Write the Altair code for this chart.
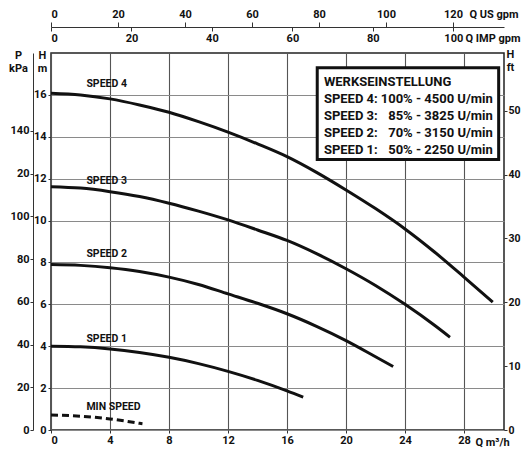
import altair as alt
import pandas as pd

# ---- data (Q in m3/h, H in m) ----
s4_q = [0, 2, 4, 6, 8, 10, 12, 14, 16, 18, 20, 22, 24, 26, 28, 29.95]
s4_h = [16.08, 16.0, 15.81, 15.52, 15.17, 14.72, 14.22, 13.66, 13.05, 12.3, 11.46, 10.57, 9.6, 8.5, 7.3, 6.1]
s3_q = [0, 2, 4, 6, 8, 10, 12, 14, 16, 18, 20, 22, 24, 26, 27.05]
s3_h = [11.62, 11.55, 11.38, 11.15, 10.83, 10.45, 10.03, 9.55, 9.05, 8.42, 7.7, 6.9, 6.0, 5.0, 4.43]
s2_q = [0, 2, 4, 6, 8, 10, 12, 14, 16, 18, 20, 22, 23.2]
s2_h = [7.9, 7.86, 7.75, 7.57, 7.3, 6.95, 6.5, 6.05, 5.55, 4.95, 4.27, 3.5, 3.03]
s1_q = [0, 2, 4, 6, 8, 10, 12, 14, 16, 17.1]
s1_h = [4.0, 3.97, 3.87, 3.70, 3.47, 3.17, 2.80, 2.37, 1.87, 1.57]
min_q = [0, 2, 4, 6, 6.2]
min_h = [0.72, 0.66, 0.53, 0.32, 0.3]

label_text = ["SPEED 4", "SPEED 3", "SPEED 2", "SPEED 1", "MIN SPEED"]
label_q = [2.4, 2.4, 2.4, 2.4, 2.4]
label_h = [16.5, 11.9, 8.38, 4.35, 1.12]

legend_title = "WERKSEINSTELLUNG"
legend_col1 = ["SPEED 4:", "SPEED 3:", "SPEED 2:", "SPEED 1:"]
legend_col2 = ["100% - 4500 U/min", "85% - 3825 U/min", "70% - 3150 U/min", "50% - 2250 U/min"]
legend_rows_h = [15.82, 15.01, 14.20, 13.39]
legend_title_h = 16.63
legend_left_q = 18.5
legend_right_q = 29.95
box_q = [18.05, 30.35]
box_h = [12.91, 17.29]

q_ticks = [0, 4, 8, 12, 16, 20, 24, 28]
h_ticks = [0, 2, 4, 6, 8, 10, 12, 14, 16]
us_ticks = [0, 20, 40, 60, 80, 100, 120]
imp_ticks = [0, 20, 40, 60, 80, 100]
kpa_ticks = [0, 20, 40, 60, 80, 100, 120, 140]
ft_ticks = [0, 10, 20, 30, 40, 50]

US_PER_M3H = 4.40287
IMP_PER_M3H = 3.66615
KPA_PER_M = 9.80665
FT_PER_M = 3.28084

WIDTH = 453
HEIGHT = 377
Q_MAX = WIDTH / 14.75
H_MAX = 18.0

FONT = "Roboto, Liberation Sans, sans-serif"
INK = "#111111"

# ---- tables ----
rows = []
for name, qs, hs in [("SPEED 4", s4_q, s4_h), ("SPEED 3", s3_q, s3_h),
                     ("SPEED 2", s2_q, s2_h), ("SPEED 1", s1_q, s1_h)]:
    for i, (q, h) in enumerate(zip(qs, hs)):
        rows.append({"speed": name, "i": i, "q": q, "h": h})
curves_df = pd.DataFrame(rows)
min_df = pd.DataFrame({"q": min_q, "h": min_h, "i": list(range(len(min_q)))})
labels_df = pd.DataFrame({"t": label_text, "q": label_q, "h": label_h})
box_df = pd.DataFrame({"q1": [box_q[0]], "q2": [box_q[1]], "h1": [box_h[0]], "h2": [box_h[1]]})
leg_title_df = pd.DataFrame({"t": [legend_title], "q": [legend_left_q], "h": [legend_title_h]})
leg1_df = pd.DataFrame({"t": legend_col1, "q": [legend_left_q] * 4, "h": legend_rows_h})
leg2_df = pd.DataFrame({"t": legend_col2, "q": [legend_right_q] * 4, "h": legend_rows_h})
axis_df = pd.DataFrame({"q": [0, Q_MAX], "h": [0, H_MAX]})

xs = alt.Scale(domain=[0, Q_MAX], nice=False, zero=False)
ys = alt.Scale(domain=[0, H_MAX], nice=False, zero=False)

common = dict(labelFont=FONT, labelFontWeight="bold", labelFontSize=11, labelColor=INK,
              titleFont=FONT, titleFontWeight="bold", titleFontSize=11, titleColor=INK,
              tickColor="#333333", domainColor="#333333", titleAngle=0)

x_main = alt.X("q:Q", scale=xs, axis=alt.Axis(
    values=q_ticks, grid=True, gridColor="#555555", gridWidth=1.1, domain=False,
    tickSize=3, labelPadding=1, title="Q  m³/h", titleX=424, titleY=15,
    titleAlign="left", titleBaseline="alphabetic", **common))
y_main = alt.Y("h:Q", scale=ys, axis=alt.Axis(
    values=h_ticks, grid=True, gridColor="#8a8a8a", gridWidth=1.1, domain=False,
    tickSize=3, labelPadding=2, title=["H", "m"], titleX=-9, titleY=-4,
    titleAlign="center", titleBaseline="top", titleLineHeight=13, **common))

x_plain = alt.X("q:Q", scale=xs, axis=None)
y_plain = alt.Y("h:Q", scale=ys, axis=None)

lines = alt.Chart(curves_df).mark_line(color=INK, strokeWidth=3, interpolate="monotone").encode(
    x=x_main, y=y_main, detail="speed:N", order="i:Q")

min_line = alt.Chart(min_df).mark_line(color=INK, strokeWidth=3, strokeDash=[7, 4],
                                       interpolate="monotone").encode(
    x=x_plain, y=y_plain, order="i:Q")

labels = alt.Chart(labels_df).mark_text(font=FONT, fontWeight="bold", fontSize=10.5, color=INK,
                                        align="left", baseline="middle").encode(
    x=x_plain, y=y_plain, text="t:N")

box = alt.Chart(box_df).mark_rect(fill="white", stroke=INK, strokeWidth=3).encode(
    x=alt.X("q1:Q", scale=xs, axis=None), x2="q2:Q",
    y=alt.Y("h1:Q", scale=ys, axis=None), y2="h2:Q")

LEG_FS = 13
leg_t = alt.Chart(leg_title_df).mark_text(font=FONT, fontWeight="bold", fontSize=LEG_FS, color=INK,
                                          align="left", baseline="middle").encode(
    x=x_plain, y=y_plain, text="t:N")
leg_1 = alt.Chart(leg1_df).mark_text(font=FONT, fontWeight="bold", fontSize=LEG_FS, color=INK,
                                     align="left", baseline="middle").encode(
    x=x_plain, y=y_plain, text="t:N")
leg_2 = alt.Chart(leg2_df).mark_text(font=FONT, fontWeight="bold", fontSize=LEG_FS, color=INK,
                                     align="right", baseline="middle").encode(
    x=x_plain, y=y_plain, text="t:N")

us_layer = alt.Chart(axis_df).transform_calculate(
    us=f"datum.q * {US_PER_M3H}", kpa=f"datum.h * {KPA_PER_M}"
).mark_point(opacity=0).encode(
    x=alt.X("us:Q", scale=alt.Scale(domain=[0, Q_MAX * US_PER_M3H], nice=False, zero=False),
            axis=alt.Axis(orient="top", offset=26, values=us_ticks, grid=False, domain=True,
                          tickSize=5, labelPadding=3, title="Q US gpm", titleX=418, titleY=-10,
                          titleAlign="left", titleBaseline="alphabetic", **common)),
    y=alt.Y("kpa:Q", scale=alt.Scale(domain=[0, H_MAX * KPA_PER_M], nice=False, zero=False),
            axis=alt.Axis(orient="left", offset=18, values=kpa_ticks, grid=False, domain=True,
                          tickSize=3, labelPadding=1,
                          labelExpr="datum.value == 120 ? '20' : datum.label",
                          title=["P", "kPa"], titleX=-15, titleY=-4, titleAlign="center",
                          titleBaseline="top", titleLineHeight=13, **common)),
)

right_common = dict(common)
right_common["labelFontSize"] = 10.5
imp_layer = alt.Chart(axis_df).transform_calculate(
    imp=f"datum.q * {IMP_PER_M3H}", ft=f"datum.h * {FT_PER_M}"
).mark_point(opacity=0).encode(
    x=alt.X("imp:Q", scale=alt.Scale(domain=[0, Q_MAX * IMP_PER_M3H], nice=False, zero=False),
            axis=alt.Axis(orient="bottom", offset=-(HEIGHT + 26), values=imp_ticks, grid=False,
                          domain=False, tickSize=4, labelPadding=1, title="Q IMP gpm",
                          titleX=414, titleY=14, titleAlign="left",
                          titleBaseline="alphabetic", **common)),
    y=alt.Y("ft:Q", scale=alt.Scale(domain=[0, H_MAX * FT_PER_M], nice=False, zero=False),
            axis=alt.Axis(orient="right", values=ft_ticks, grid=False, domain=False,
                          tickSize=3, labelPadding=1, title=["H", "ft"], titleX=6, titleY=-5,
                          titleAlign="center", titleBaseline="top", titleLineHeight=13,
                          **right_common)),
)

chart = alt.layer(
    lines, min_line, labels, box, leg_t, leg_1, leg_2, us_layer, imp_layer
).resolve_scale(x="independent", y="independent").properties(
    width=WIDTH, height=HEIGHT,
    autosize=alt.AutoSizeParams(type="none"),
    padding={"left": 43, "top": 45, "right": 19, "bottom": 20},
    background="white",
).configure_view(stroke="#222222", strokeWidth=1.5)

chart.save("out.html", embed_options={"renderer": "svg", "actions": False})
